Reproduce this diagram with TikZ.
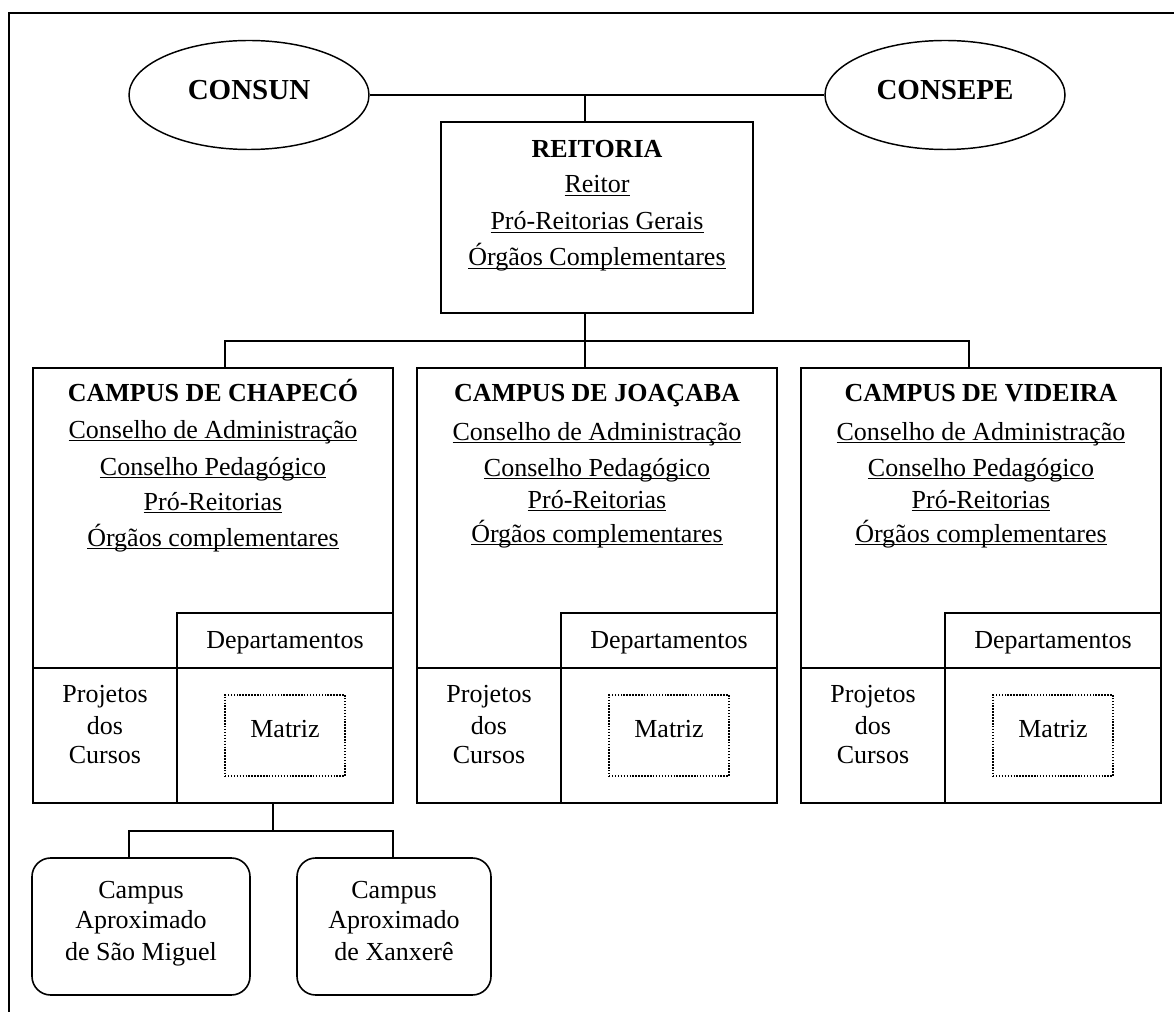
\documentclass[tikz,border=0pt]{standalone}
\usepackage{fontspec}
\setmainfont{Liberation Serif}
\usetikzlibrary{fit,shapes.geometric}
% underline at a fixed depth below the baseline, crossing descenders
\newcommand\ulin[1]{\setbox0\hbox{#1}\rlap{\rule[-2.3pt]{\wd0}{1.1pt}}\box0}
\begin{document}
\begin{tikzpicture}[x=0.75pt,y=-0.75pt,line width=1.2pt,
  box/.style={draw, rectangle, inner sep=0pt},
  roundbox/.style={draw, rectangle, rounded corners=14pt, inner sep=0pt},
  dotbox/.style={draw, rectangle, inner sep=0pt, line width=0.9pt, dash pattern=on 1.1pt off 1.1pt},
  oval/.style={draw, ellipse, inner sep=0pt, line width=1.1pt, minimum width=180pt, minimum height=81.75pt},
  txt/.style={inner sep=0pt, anchor=base, font=\fontsize{19.5}{23}\selectfont},
  head/.style={inner sep=0pt, anchor=base, font=\fontsize{19.5}{23}\selectfont\bfseries},
  big/.style={inner sep=0pt, anchor=base, font=\fontsize{21.75}{26}\selectfont\bfseries}]
\useasboundingbox (0,0) rectangle (1174,1012);
% page frame
\draw (9,1012) -- (9,13) -- (1174,13);

% councils
\node[oval] (consun) at (249,95) {};
\node[big] (consunT) at (249,100) {CONSUN};
\node[oval] (consepe) at (945,95) {};
\node[big] (consepeT) at (945,100) {CONSEPE};

% rectorate
\node[box, fit={(441,122) (753,313)}] (reit) {};
\node[head] (reit1) at (597,158) {REITORIA};
\node[txt] (reit2) at (597,193) {\ulin{Reitor}};
\node[txt] (reit3) at (597,230) {\ulin{Pró-Reitorias Gerais}};
\node[txt] (reit4) at (597,266) {\ulin{Órgãos Complementares}};

% campuses
\foreach \L/\nm/\title/\ya/\yb/\yc/\yd in
   {33/chap/CHAPECÓ/438/475/510/546,
    417/joac/JOAÇABA/440/476/508/542,
    801/vid/VIDEIRA/440/476/508/542}{
  \node[box, fit={(\L,368) (\L+360,803)}] (\nm) {};
  \node[box, fit={(\L+144,613) (\L+360,668)}] (\nm-dep) {};
  \node[box, fit={(\L,668) (\L+144,803)}] (\nm-proj) {};
  \node[box, fit={(\L+144,668) (\L+360,803)}] (\nm-mat) {};
  \node[dotbox, fit={(\L+192,695) (\L+312,776)}] (\nm-matbox) {};
  \node[head] (\nm-t0) at (\L+180,402) {CAMPUS DE \title};
  \node[txt] (\nm-t1) at (\L+180,\ya) {\ulin{Conselho de Administração}};
  \node[txt] (\nm-t2) at (\L+180,\yb) {\ulin{Conselho Pedagógico}};
  \node[txt] (\nm-t3) at (\L+180,\yc) {\ulin{Pró-Reitorias}};
  \node[txt] (\nm-t4) at (\L+180,\yd) {\ulin{Órgãos complementares}};
  \node[txt] (\nm-dept) at (\L+252,648) {Departamentos};
  \node[txt] (\nm-p1) at (\L+72,702) {Projetos};
  \node[txt] (\nm-p2) at (\L+72,734) {dos};
  \node[txt] (\nm-p3) at (\L+72,763) {Cursos};
  \node[txt] (\nm-mt) at (\L+252,737) {Matriz};
}

% outlying campuses
\node[roundbox, fit={(32,858) (250,995)}] (sm) {};
\node[txt] (sm1) at (141,898) {Campus};
\node[txt] (sm2) at (141,928) {Aproximado};
\node[txt] (sm3) at (141,960) {de São Miguel};
\node[roundbox, fit={(297,858) (491,995)}] (xx) {};
\node[txt] (xx1) at (394,898) {Campus};
\node[txt] (xx2) at (394,928) {Aproximado};
\node[txt] (xx3) at (394,960) {de Xanxerê};

% connectors
\coordinate (top) at (585,95);
\coordinate (busL) at (225,341);
\coordinate (busM) at (585,341);
\coordinate (busR) at (969,341);
\coordinate (sub) at (273,831);
\coordinate (subL) at (129,831);
\coordinate (subR) at (393,831);
\draw (consun.east) -- (consepe.west);
\draw (top) -- (top |- reit.north);
\draw (busM |- reit.south) -- (busM |- joac.north);
\draw (busL |- chap.north) -- (busL) -- (busR) -- (busR |- vid.north);
\draw (sub |- chap.south) -- (sub);
\draw (subL |- sm.north) -- (subL) -- (subR) -- (subR |- xx.north);
\end{tikzpicture}
\end{document}
